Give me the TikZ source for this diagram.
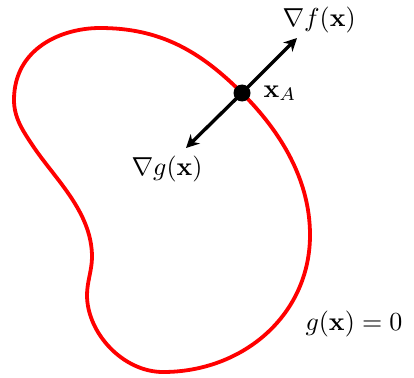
\documentclass[tikz,border=0pt]{standalone}
\usetikzlibrary{arrows.meta}
\begin{document}
\begin{tikzpicture}[x=1pt,y=-1pt,
  lbl/.style={inner sep=0pt,anchor=base west,scale=2.6},
  vec/.style={line width=3.4pt,-{Stealth[length=13pt,width=13pt]}}]
\useasboundingbox (0,0) rectangle (414,377);
\draw[red,line width=3.8pt]
  (100,28) .. controls (160,28) and (200,51) .. (242,93)
  .. controls (281,132) and (310,180) .. (310,235)
  .. controls (310,315) and (243,372) .. (163,372)
  .. controls (123,372) and (87,333) .. (87,295)
  .. controls (87,282) and (92,270) .. (92,257)
  .. controls (92,212) and (55,179) .. (33,146)
  .. controls (23,131) and (14,118) .. (14,100)
  .. controls (14,48) and (62,28) .. (100,28) -- cycle;
\node[circle,fill=black,inner sep=0pt,minimum size=17pt] (A) at (242,93) {};
\coordinate (F) at (297,38);
\coordinate (G) at (186,148);
\draw[vec] (A.center) -- (F);
\draw[vec] (A.center) -- (G);
\node[lbl] (lf) at (282,27) {$\nabla f(\mathbf{x})$};
\node[lbl] (la) at (263,97) {$\mathbf{x}_A$};
\node[lbl] (lg) at (131,175) {$\nabla g(\mathbf{x})$};
\node[lbl] (l0) at (305,330) {$g(\mathbf{x})=0$};
\end{tikzpicture}
\end{document}
